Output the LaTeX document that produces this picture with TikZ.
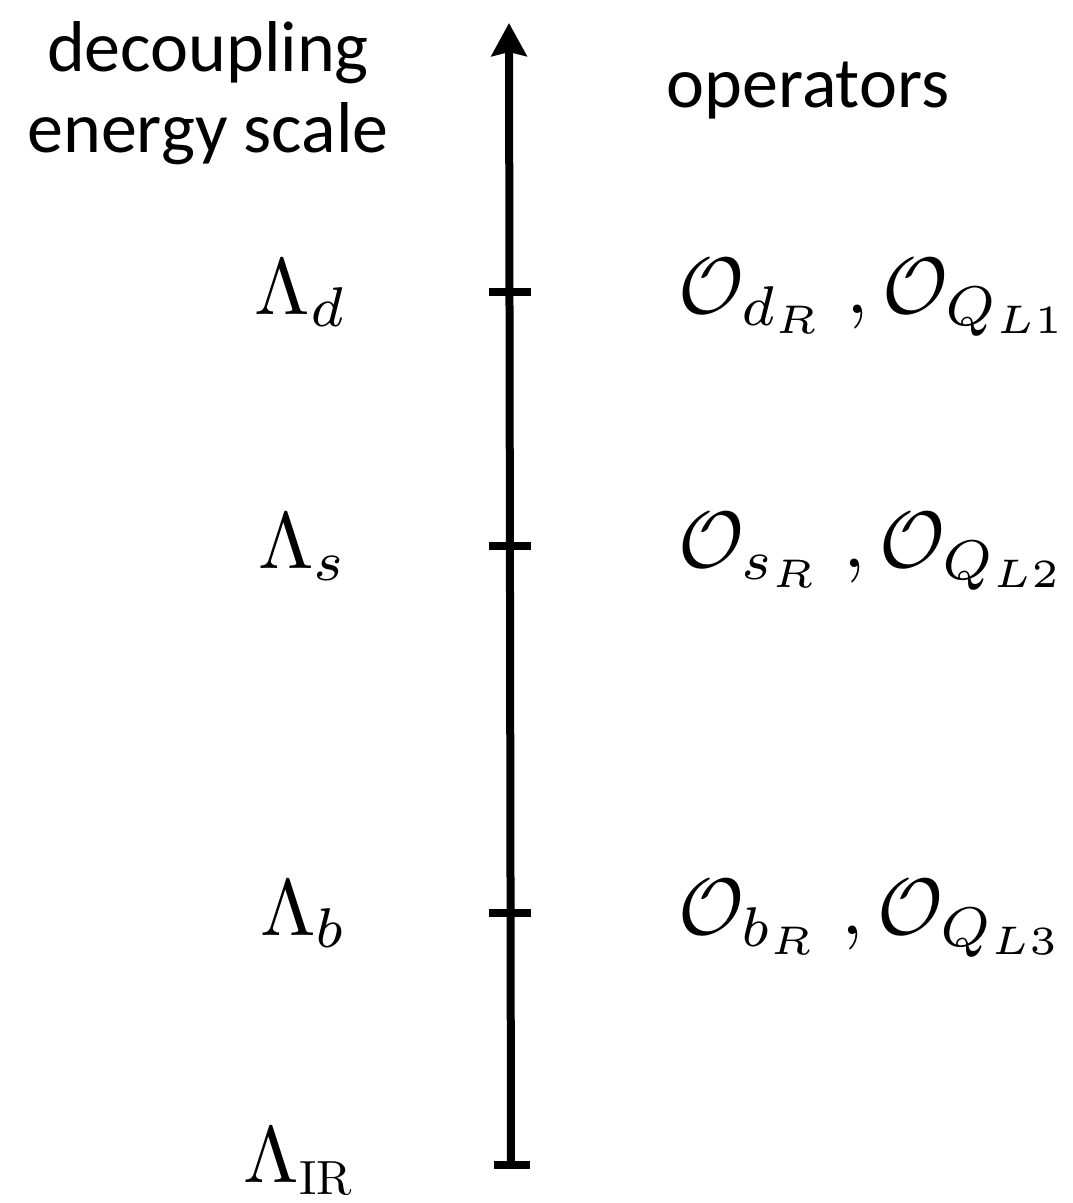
\documentclass[tikz,border=0pt]{standalone}
\usepackage{amsmath,amssymb}
\usepackage{graphicx}
\usepackage{fontspec}
\newfontfamily\headfont{Carlito}
\usepackage{tikz}
\usetikzlibrary{positioning,arrows.meta}

% Formeln in 10pt setzen und hochskalieren
\newcommand{\biglabel}[1]{\scalebox{8}{$#1$}}
\newcommand{\tinyrm}[1]{\scalebox{0.6}{$\mathrm{#1}$}}

\begin{document}
\begin{tikzpicture}[
    x=1pt, y=-1pt,
    every node/.style={inner sep=0pt},
    heading/.style={anchor=base, font=\headfont\fontsize{72}{81}\selectfont},
    scalelabel/.style={anchor=base east},
    oplabel/.style={anchor=base west},
    axis/.style={line width=8pt, -{Stealth[length=33pt,width=35pt,inset=4pt]}},
    ticksign/.style={line width=8pt}
  ]
    \useasboundingbox (0,0) rectangle (1072,1203);

    % Titel links und rechts
    \node[heading] (dec) at (208,71) {decoupling};
    \node[heading] (ene) at (208,152) {energy scale};
    \node[heading] (ops) at (808,107) {operators};

    % Achse mit Striche
    \coordinate (bot) at (511,1165);
    \coordinate (top) at (509,23);
    \draw[axis] (bot) -- (top);

    \coordinate (td1) at (489,292);  \coordinate (td2) at (531,292);
    \coordinate (ts1) at (489,546);  \coordinate (ts2) at (531,546);
    \coordinate (tb1) at (489,913);  \coordinate (tb2) at (531,913);
    \coordinate (ti1) at (494,1165); \coordinate (ti2) at (530,1165);
    \draw[ticksign] (td1) -- (td2);
    \draw[ticksign] (ts1) -- (ts2);
    \draw[ticksign] (tb1) -- (tb2);
    \draw[ticksign] (ti1) -- (ti2);

    % Skalen
    \node[scalelabel] (Ld)  at (348,314)  {\biglabel{\Lambda_d}};
    \node[scalelabel] (Ls)  at (348,568)  {\biglabel{\Lambda_s}};
    \node[scalelabel] (Lb)  at (348,935)  {\biglabel{\Lambda_b}};
    \node[scalelabel] (LIR) at (356,1182) {\biglabel{\Lambda_{\tinyrm{IR}}}};

    % Operatoren
    \node[oplabel] (Od) at (678,313) {\biglabel{\mathcal{O}_{d_R}\;,\mathcal{O}_{Q_{L1}}}};
    \node[oplabel] (Os) at (678,567) {\biglabel{\mathcal{O}_{s_R}\;,\mathcal{O}_{Q_{L2}}}};
    \node[oplabel] (Ob) at (678,934) {\biglabel{\mathcal{O}_{b_R}\;,\mathcal{O}_{Q_{L3}}}};
\end{tikzpicture}
\end{document}
